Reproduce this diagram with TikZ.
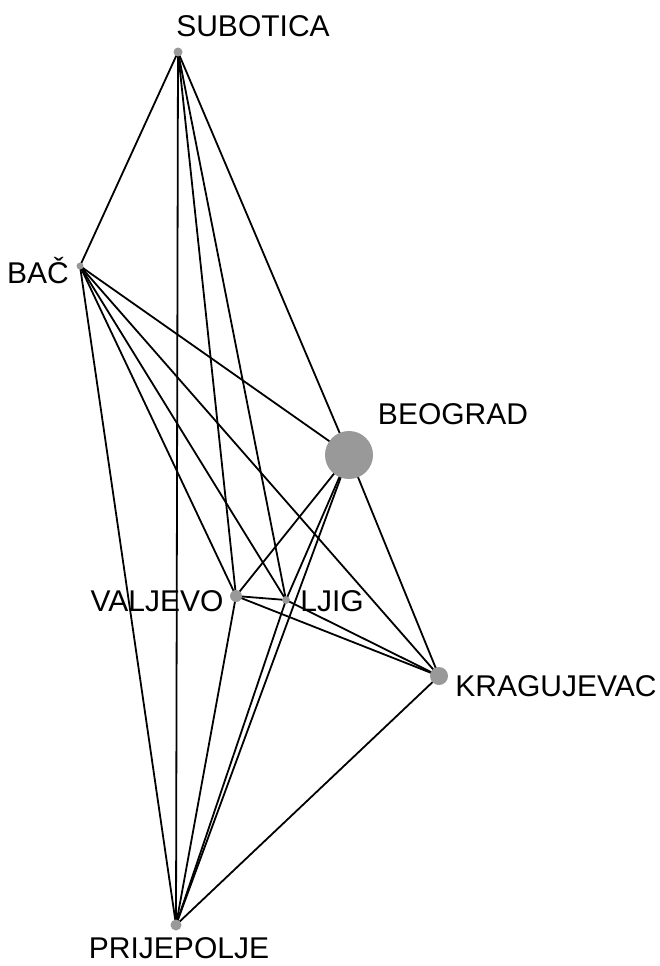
\documentclass[tikz,border=0pt]{standalone}
\usepackage{fontspec}
\setmainfont{Liberation Sans}
\definecolor{nodegrey}{HTML}{999999}
\begin{document}
\begin{tikzpicture}[x=1pt,y=-1pt,
  city/.style={circle,fill=nodegrey,inner sep=0pt,draw=none},
  lbl/.style={font=\fontsize{30}{31}\selectfont,inner sep=0pt,text=black},
  edge/.style={draw=black,line width=1.8pt}]
\useasboundingbox (0,0) rectangle (660,966);
% nodes (centres)
\coordinate (sub) at (178,52);
\coordinate (bac) at (80,266);
\coordinate (beo) at (349,455);
\coordinate (val) at (236,596);
\coordinate (lji) at (286,600);
\coordinate (kra) at (439,676);
\coordinate (pri) at (176,925);
% edges
\foreach \a/\b in {sub/bac,sub/pri,sub/val,sub/lji,sub/beo,
  bac/pri,bac/val,bac/lji,bac/kra,bac/beo,
  beo/val,beo/lji,beo/pri,beo/kra,
  val/lji,val/kra,val/pri,
  lji/kra,lji/pri,
  kra/pri}
  \draw[edge] (\a) -- (\b);
% node discs
\node[city,minimum size=9pt] (nsub) at (sub) {};
\node[city,minimum size=7pt] (nbac) at (bac) {};
\node[city,minimum size=48pt] (nbeo) at (beo) {};
\node[city,minimum size=12pt] (nval) at (val) {};
\node[city,minimum size=8pt] (nlji) at (lji) {};
\node[city,minimum size=18pt] (nkra) at (kra) {};
\node[city,minimum size=11pt] (npri) at (pri) {};
% labels
\node[lbl] (tsub) at (253,26) {SUBOTICA};
\node[lbl] (tbac) at (38,271) {BAČ};
\node[lbl] (tbeo) at (453,414) {BEOGRAD};
\node[lbl] (tval) at (157,601) {VALJEVO};
\node[lbl] (tlji) at (332,601) {LJIG};
\node[lbl] (tkra) at (556,686) {KRAGUJEVAC};
\node[lbl] (tpri) at (179,948) {PRIJEPOLJE};
\end{tikzpicture}
\end{document}
